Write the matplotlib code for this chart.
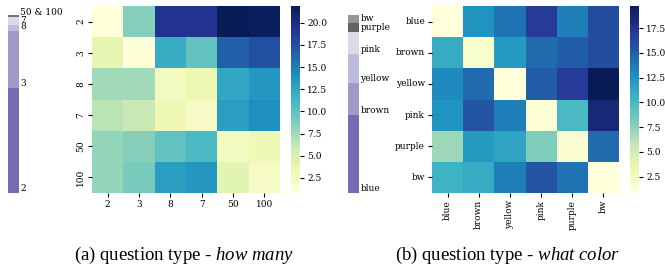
import numpy as np
import matplotlib
matplotlib.use("Agg")
import matplotlib.pyplot as plt

# answer distribution (stacked bars, bottom to top)
many_labels = ["2", "3", "8", "7", "50 & 100"]
many_share = [105, 57, 6, 8, 1.5]
many_colors = ["#756bb1", "#9e9ac8", "#bcbddc", "#dadaeb", "#737373"]

color_labels = ["blue", "brown", "yellow", "pink", "purple", "bw"]
color_share = [78, 32, 29, 22.3, 8.4, 8.3]
color_colors = ["#756bb1", "#9e9ac8", "#bcbddc", "#dadaeb", "#636363", "#969696"]

# confusion heatmaps
many_ticks = ["2", "3", "8", "7", "50", "100"]
many_vals = np.array([
    [0.8, 8.5, 19.5, 19.5, 21.9, 21.6],
    [4.0, 0.9, 12.0, 10.0, 16.5, 17.5],
    [7.5, 7.5, 2.6, 3.6, 12.5, 13.5],
    [6.5, 6.0, 3.2, 2.2, 13.0, 14.0],
    [8.0, 8.5, 10.0, 11.0, 2.6, 3.2],
    [8.0, 9.0, 13.0, 13.5, 4.2, 2.2],
])
color_ticks = ["blue", "brown", "yellow", "pink", "purple", "bw"]
color_vals = np.array([
    [0.85, 12.5, 14.0, 17.0, 13.5, 16.0],
    [11.0, 1.6, 12.0, 14.5, 15.0, 16.0],
    [13.0, 14.5, 0.9, 15.0, 17.0, 19.75],
    [12.5, 15.5, 13.5, 1.2, 10.0, 18.5],
    [7.0, 12.0, 11.5, 8.0, 1.5, 14.5],
    [10.5, 11.0, 13.5, 15.5, 14.0, 0.9],
])

W, H = 665, 267
plt.rcParams['font.family'] = ['DejaVu Serif']
plt.rcParams['mathtext.fontset'] = 'custom'
plt.rcParams['mathtext.rm'] = 'Liberation Serif'
plt.rcParams['mathtext.it'] = 'Liberation Serif:italic'
fig = plt.figure(figsize=(W / 100, H / 100), dpi=100)
fs = 6.5


def px_axes(x0, y0, x1, y1):
    # pixel box (top-left origin) -> figure axes
    return fig.add_axes([x0 / W, 1 - y1 / H, (x1 - x0) / W, (y1 - y0) / H])


def stacked(ax, labels, share, colors):
    bottom = 0
    for lab, s, c in zip(labels, share, colors):
        ax.bar(0, s, bottom=bottom, width=1, color=c, linewidth=0)
        ax.text(0.62, bottom, lab, fontsize=fs, va='bottom', ha='left')
        bottom += s
    ax.set_xlim(-0.5, 0.5)
    ax.set_ylim(0, bottom)
    ax.axis('off')


def heat(ax, cax, vals, ticks, rot_y, rot_x, cticks):
    n = len(ticks)
    m = ax.pcolormesh(vals, cmap='YlGnBu', vmin=vals.min(), vmax=vals.max())
    ax.set_xlim(0, n)
    ax.set_ylim(n, 0)
    ax.set_xticks(np.arange(n) + 0.5)
    ax.set_yticks(np.arange(n) + 0.5)
    ax.set_xticklabels(ticks, rotation=rot_x, fontsize=fs)
    ax.set_yticklabels(ticks, rotation=rot_y, fontsize=fs, va='center')
    ax.tick_params(length=3, width=0.8, pad=2)
    for s in ax.spines.values():
        s.set_visible(False)
    cb = fig.colorbar(m, cax=cax, ticks=cticks, format='%.1f')
    cb.outline.set_visible(False)
    cb.ax.tick_params(labelsize=fs, length=3, width=0.8, pad=2)


ax1 = px_axes(8, 15, 19, 193)
stacked(ax1, many_labels, many_share, many_colors)
hm1 = px_axes(92, 6, 280, 193)
cb1 = px_axes(291, 6, 300, 193)
heat(hm1, cb1, many_vals, many_ticks, 90, 0, np.arange(2.5, 20.1, 2.5))

ax2 = px_axes(348, 15, 359, 193)
stacked(ax2, color_labels, color_share, color_colors)
hm2 = px_axes(432, 6, 619, 193)
cb2 = px_axes(630, 6, 639, 193)
heat(hm2, cb2, color_vals, color_ticks, 0, 90, np.arange(2.5, 17.6, 2.5))

cap = dict(fontsize=13.5, family='Liberation Serif', ha='center', va='center')
fig.text(184 / W, 1 - 255 / H, "(a) question type - $\\mathit{how\\ many}$", **cap)
fig.text(508 / W, 1 - 255 / H, "(b) question type - $\\mathit{what\\ color}$", **cap)

fig.savefig("out.png", dpi=100)
